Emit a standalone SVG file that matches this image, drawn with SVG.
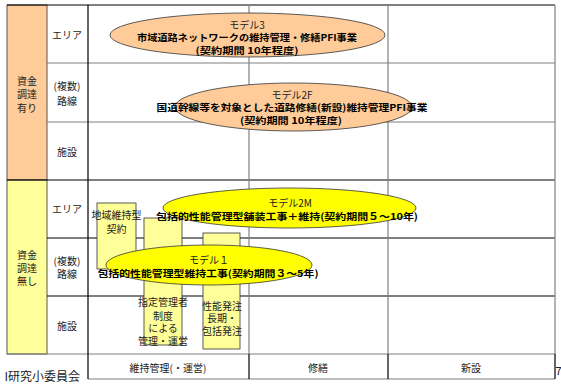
<svg xmlns="http://www.w3.org/2000/svg" width="561" height="388" viewBox="0 0 561 388">
<style>
text{font-family:"Noto Sans CJK JP","Noto Sans",sans-serif;font-size:10px;fill:#222;text-anchor:middle}
.b{font-weight:bold;font-size:9.5px;fill:#000}
.g{stroke:#808080;stroke-width:1.2;fill:none}
.k{stroke:#000;stroke-width:1.2;fill:none}
.rc{fill:#FFFF99;stroke:#333;stroke-width:0.8}
.eo{fill:#FFCC99;stroke:#333;stroke-width:0.8}
.ey{fill:#FFFF00;stroke:#333;stroke-width:0.8}
</style>
<rect width="561" height="388" fill="#fff"/>
<g id="bands">
<rect x="7" y="5" width="40" height="175" fill="#FFCC99" stroke="#555" stroke-width="1"/>
<rect x="7" y="180" width="40" height="174" fill="#FFFF99" stroke="#555" stroke-width="1"/>
</g>
<g id="grid">
<line class="k" x1="7" y1="5" x2="555" y2="5"/>
<line class="g" x1="47" y1="63" x2="555" y2="63"/>
<line class="g" x1="47" y1="122" x2="555" y2="122"/>
<line class="k" x1="7" y1="180" x2="555" y2="180"/>
<line class="k" x1="47" y1="238" x2="555" y2="238"/>
<line class="k" x1="47" y1="296" x2="555" y2="296"/>
<line class="g" x1="7" y1="354" x2="555" y2="354"/>
<line class="g" x1="88" y1="379" x2="555" y2="379"/>
<line class="k" x1="88" y1="5" x2="88" y2="379"/>
<line class="g" x1="249" y1="5" x2="249" y2="354"/>
<line class="g" x1="388" y1="5" x2="388" y2="354"/>
<line class="g" x1="555" y1="5" x2="555" y2="354"/>
<line class="k" x1="249" y1="354" x2="249" y2="379"/>
<line class="k" x1="388" y1="354" x2="388" y2="379"/>
<line class="k" x1="555" y1="354" x2="555" y2="379"/>
</g>
<g id="labels">
<text x="27" y="85">資金</text><text x="27" y="98">調達</text><text x="27" y="112">有り</text>
<text x="27" y="259">資金</text><text x="27" y="272">調達</text><text x="27" y="285">無し</text>
<text x="67" y="39">エリア</text>
<text x="67" y="90">(複数)</text><text x="67" y="105">路線</text>
<text x="67" y="156">施設</text>
<text x="67" y="213">エリア</text>
<text x="67" y="265">(複数)</text><text x="67" y="278">路線</text>
<text x="67" y="330">施設</text>
<text x="168" y="372">維持管理(・運営)</text>
<text x="318" y="372">修繕</text>
<text x="471" y="372">新設</text>
<text x="80" y="381" style="text-anchor:end;font-size:12px">I研究小委員会</text>
<text x="555.5" y="375" style="text-anchor:start;font-size:11px">7</text>
</g>
<g id="rect-chiiki">
<rect class="rc" x="97" y="203" width="39" height="66"/>
<text x="116.5" y="219">地域維持型</text><text x="116.5" y="233">契約</text>
</g>
<g id="rect-shitei">
<rect class="rc" x="144" y="218" width="38" height="127"/>
<text x="163" y="306">指定管理者</text><text x="163" y="319.5">制度</text><text x="163" y="332">による</text><text x="163" y="345">管理・運営</text>
</g>
<g id="rect-seino">
<rect class="rc" x="203" y="233" width="37" height="116"/>
<text x="222" y="309.5">性能発注</text><text x="222" y="322">長期・</text><text x="222" y="335">包括発注</text>
</g>
<g id="model3">
<ellipse class="eo" cx="247.5" cy="35" rx="137.5" ry="22"/>
<text x="247" y="28.5">モデル3</text>
<text class="b" x="247" y="40.5" textLength="220" lengthAdjust="spacingAndGlyphs">市域道路ネットワークの維持管理・修繕PFI事業</text>
<text class="b" x="247" y="54" textLength="103" lengthAdjust="spacingAndGlyphs">(契約期間 10年程度)</text>
</g>
<g id="model2F">
<ellipse class="eo" cx="293.5" cy="107" rx="118.5" ry="24"/>
<text x="292" y="98.5">モデル2F</text>
<text class="b" x="292" y="111" textLength="271" lengthAdjust="spacingAndGlyphs">国道幹線等を対象とした道路修繕(新設)維持管理PFI事業</text>
<text class="b" x="291" y="124" textLength="102" lengthAdjust="spacingAndGlyphs">(契約期間 10年程度)</text>
</g>
<g id="model2M">
<ellipse class="ey" cx="289.5" cy="208" rx="126.5" ry="20"/>
<text x="290" y="206.5">モデル2M</text>
<text class="b" x="287" y="220" textLength="262" lengthAdjust="spacingAndGlyphs">包括的性能管理型舗装工事＋維持(契約期間５～10年)</text>
</g>
<g id="model1">
<ellipse class="ey" cx="209" cy="265" rx="103" ry="20"/>
<text x="209" y="263.5">モデル１</text>
<text class="b" x="208" y="277" textLength="221" lengthAdjust="spacingAndGlyphs">包括的性能管理型維持工事(契約期間３～5年)</text>
</g>
</svg>
